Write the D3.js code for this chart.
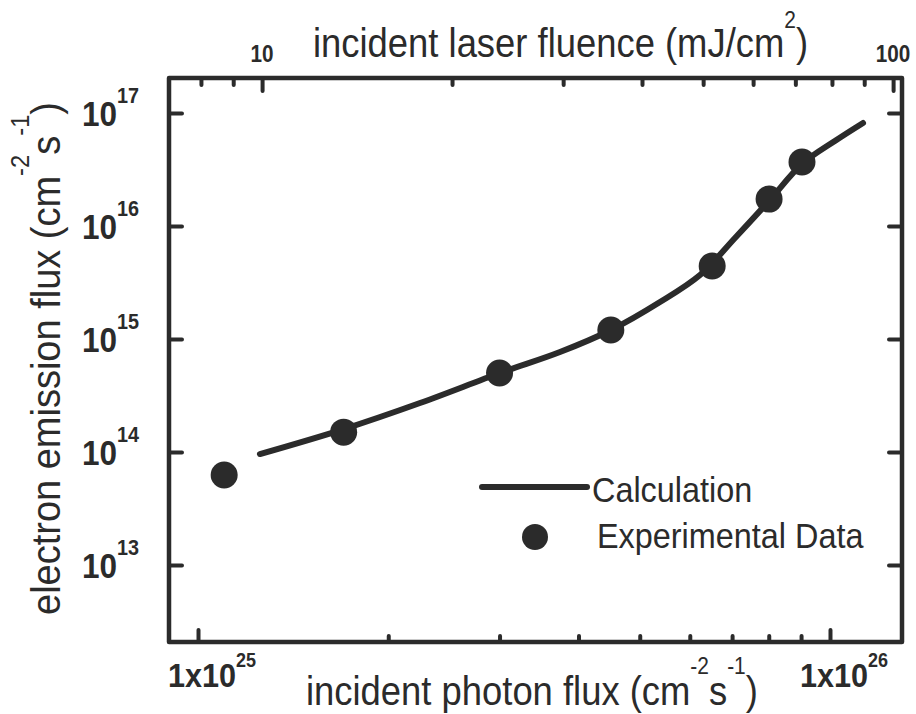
<!DOCTYPE html>
<html>
<head>
<meta charset="utf-8">
<script src="https://cdn.jsdelivr.net/npm/d3@7"></script>
<style>
  body { margin: 0; background: #fff; }
  text { font-family: "Liberation Sans", Arial, sans-serif; fill: #2b2b2b; }
</style>
</head>
<body>
<div id="vis"></div>
<script>
const expFlux = [1.10e25, 1.70e25, 3.00e25, 4.50e25, 6.51e25, 8.01e25, 9.03e25];
const expEmission = [6.26e13, 1.50e14, 5.00e14, 1.20e15, 4.43e15, 1.73e16, 3.68e16];

const calcFlux = [1.253e25, 1.702e25, 2.245e25, 3.004e25, 3.739e25, 4.503e25, 5.383e25,
  6.228e25, 7.074e25, 8.008e25, 9.030e25, 1.018e26, 1.128e26];
const calcEmission = [9.60e13, 1.598e14, 2.714e14, 5.00e14, 7.67e14, 1.201e15, 2.125e15,
  3.685e15, 7.83e15, 1.665e16, 3.538e16, 5.65e16, 8.157e16];

const photonMajor = [1e25, 1e26];
const photonMinor = [2e25, 3e25, 4e25, 5e25, 6e25, 7e25, 8e25, 9e25];
const fluenceMajor = [10, 100];
const fluenceMinor = [8, 9, 20, 30, 40, 50, 60, 70, 80, 90];
const emissionTicks = [1e13, 1e14, 1e15, 1e16, 1e17];

const fluenceDomain = [7.12, 103.3];
const photonDomain = [8.997e24, 1.300e26];
const emissionDomain = [2.085e12, 2.04e17];

const WIDTH = 916, HEIGHT = 714;
const margin = { top: 78, right: 14, bottom: 72, left: 169 };
const width = WIDTH - margin.left - margin.right;
const height = HEIGHT - margin.top - margin.bottom;
const ink = "#2b2b2b";

const svg = d3.select("#vis").append("svg")
  .attr("width", WIDTH)
  .attr("height", HEIGHT);

const x = d3.scaleLog().domain(photonDomain).range([0, width]);
const xTop = d3.scaleLog().domain(fluenceDomain).range([0, width]);
const y = d3.scaleLog().domain(emissionDomain).range([height, 0]);

const plot = svg.append("g")
  .attr("transform", `translate(${margin.left},${margin.top})`);

// ticks (inward)
function tickAxis(axis, tr) {
  const g = plot.append("g").attr("transform", tr).call(axis);
  g.select(".domain").remove();
  g.selectAll(".tick line")
    .attr("stroke", ink)
    .attr("stroke-width", 4)
    .attr("stroke-linecap", "round");
  return g;
}
tickAxis(d3.axisBottom(x).tickValues(photonMinor).tickSize(-6).tickFormat(""), `translate(0,${height})`);
tickAxis(d3.axisBottom(x).tickValues(photonMajor).tickSize(-12).tickFormat(""), `translate(0,${height})`);
tickAxis(d3.axisTop(xTop).tickValues(fluenceMinor).tickSize(-7).tickFormat(""), "translate(0,0)");
tickAxis(d3.axisTop(xTop).tickValues(fluenceMajor).tickSize(-13).tickFormat(""), "translate(0,0)");
tickAxis(d3.axisLeft(y).tickValues(emissionTicks).tickSize(-13).tickFormat(""), "translate(0,0)");
tickAxis(d3.axisRight(y).tickValues(emissionTicks).tickSize(-13).tickFormat(""), `translate(${width},0)`);

// frame
plot.append("rect")
  .attr("width", width)
  .attr("height", height)
  .attr("fill", "none")
  .attr("stroke", ink)
  .attr("stroke-width", 4.5)
  .attr("stroke-linejoin", "round");

// text helper: parts = [[text, sup?], ...], condensed horizontally
function label(parent, px, py, parts, o) {
  const t = parent.append("text")
    .attr("transform", `translate(${px},${py}) rotate(${o.rot || 0}) scale(${o.sx || 0.9},1)`)
    .attr("text-anchor", o.anchor || "start")
    .attr("font-size", o.size)
    .attr("font-weight", o.bold ? "bold" : "normal");
  let up = false;
  parts.forEach(([s, sup]) => {
    const ts = t.append("tspan").text(s);
    if (sup) {
      ts.attr("font-size", o.supSize).attr("dy", up ? 0 : -o.rise);
      up = true;
    } else {
      if (up) ts.attr("dy", o.rise);
      up = false;
    }
  });
  return t;
}

// bottom tick labels
photonMajor.forEach(v => {
  label(plot, x(v) - 30, height + 45,
    [["1x10"], [String(Math.round(Math.log10(v))), true]],
    { size: 34, supSize: 20, rise: 20, bold: true });
});
// left tick labels
emissionTicks.forEach(v => {
  label(plot, -87, y(v) + 13,
    [["10"], [String(Math.round(Math.log10(v))), true]],
    { size: 35, supSize: 22, rise: 23, bold: true });
});
// top tick labels
fluenceMajor.forEach(v => {
  label(plot, xTop(v), -16, [[String(v)]],
    { size: 23, bold: true, anchor: "middle" });
});

// axis titles
label(svg, 306, 705,
  [["incident photon flux (cm"], ["-2", true], ["s"], ["-1", true], [")"]],
  { size: 40, supSize: 23, rise: 31, sx: 0.91 });
label(svg, 313, 57,
  [["incident laser fluence (mJ/cm"], ["2", true], [")"]],
  { size: 40, supSize: 23, rise: 29, sx: 0.91 });
label(svg, 60, 615,
  [["electron emission flux (cm"], ["-2", true], ["s"], ["-1", true], [")"]],
  { size: 40, supSize: 25, rise: 31, rot: -90, sx: 0.95 });

// calculation curve
const line = d3.line()
  .x((d, i) => x(calcFlux[i]))
  .y(d => y(d))
  .curve(d3.curveCatmullRom);

plot.append("path")
  .datum(calcEmission)
  .attr("d", line)
  .attr("fill", "none")
  .attr("stroke", ink)
  .attr("stroke-width", 6)
  .attr("stroke-linecap", "round");

// experimental points
plot.selectAll(".dot")
  .data(expEmission)
  .join("circle")
  .attr("class", "dot")
  .attr("cx", (d, i) => x(expFlux[i]))
  .attr("cy", d => y(d))
  .attr("r", 13.5)
  .attr("fill", ink);

// legend
const legend = svg.append("g").attr("transform", "translate(482,487)");
legend.append("line")
  .attr("x1", 0).attr("x2", 105)
  .attr("stroke", ink)
  .attr("stroke-width", 6)
  .attr("stroke-linecap", "round");
label(legend, 110, 15, [["Calculation"]], { size: 36 });
legend.append("circle")
  .attr("cx", 53).attr("cy", 50)
  .attr("r", 13)
  .attr("fill", ink);
label(legend, 115, 61, [["Experimental Data"]], { size: 36 });
</script>
</body>
</html>
